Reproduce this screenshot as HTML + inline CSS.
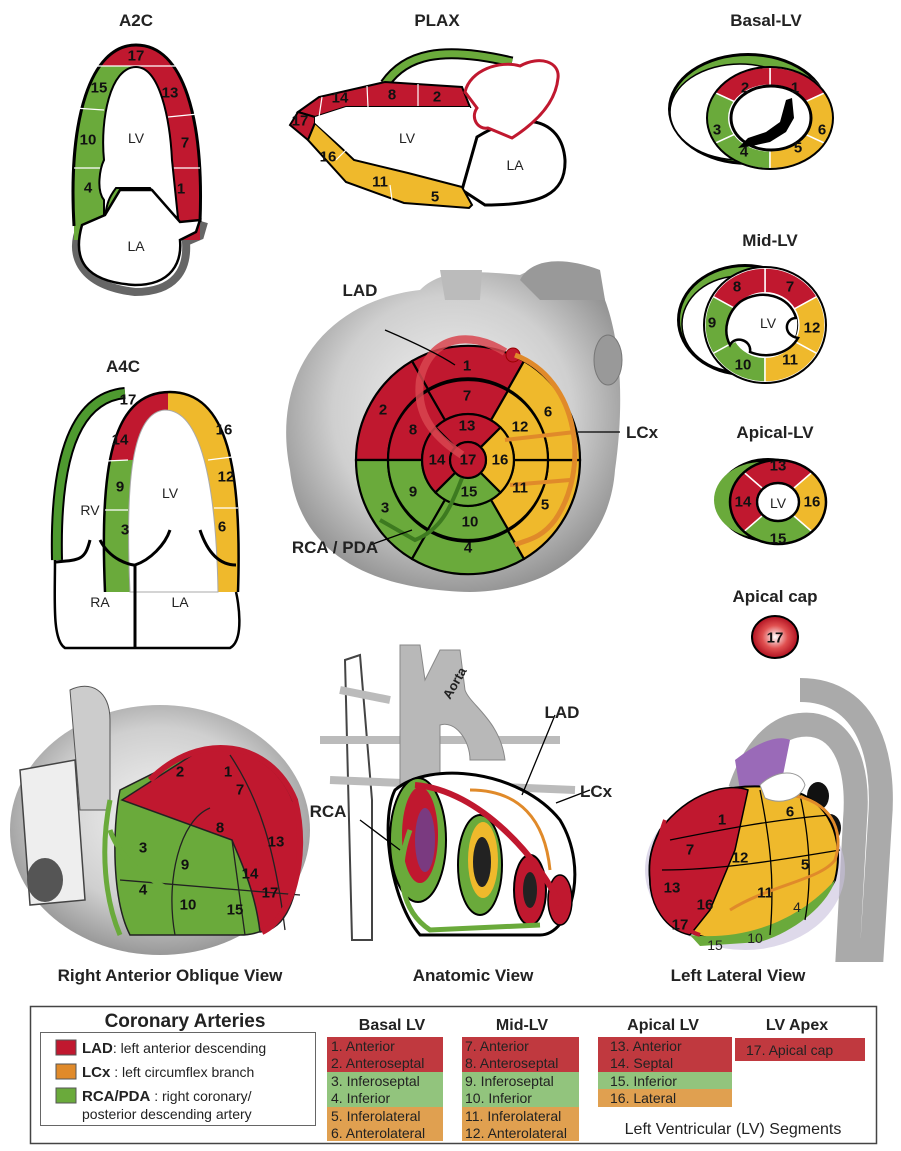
<!DOCTYPE html>
<html><head><meta charset="utf-8"><style>
html,body{margin:0;padding:0;background:#fff;}
svg{display:block;font-family:"Liberation Sans",Arial,sans-serif;}
.t{font-weight:bold;font-size:17px;text-anchor:middle;fill:#222;}
.n{font-weight:bold;font-size:15px;text-anchor:middle;fill:#111;dominant-baseline:central;}
.s{font-size:14px;text-anchor:middle;fill:#222;dominant-baseline:central;}
.lg{font-size:14px;fill:#222;}
</style></head><body>
<svg id="sv" width="901" height="1151" viewBox="0 0 901 1151" xmlns="http://www.w3.org/2000/svg">
<defs>
<radialGradient id="gr" cx="50%" cy="45%" r="60%"><stop offset="0" stop-color="#f4f4f4"/><stop offset="0.6" stop-color="#cfcfcf"/><stop offset="1" stop-color="#8a8a8a"/></radialGradient>
<radialGradient id="cap" cx="50%" cy="50%" r="50%"><stop offset="0" stop-color="#fff"/><stop offset="0.55" stop-color="#e05050"/><stop offset="1" stop-color="#b01020"/></radialGradient>
<clipPath id="a2c"><path d="M74,226 C68,120 90,45 136,45 C184,45 204,120 200,222 L200,300 L74,300Z"/></clipPath>
<clipPath id="a4c"><path d="M105,592 C100,470 110,392 170,392 C228,392 242,470 238,592Z"/></clipPath>
</defs>

<!-- ===== A2C ===== -->
<text class="t" x="136" y="26">A2C</text>
<path d="M80,228 C70,250 75,285 135,292 C175,292 188,270 186,242 L200,236 L204,222" fill="none" stroke="#666" stroke-width="8"/>
<g clip-path="url(#a2c)">
<rect x="60" y="40" width="80" height="200" fill="#6aaa3b"/>
<rect x="136" y="40" width="80" height="200" fill="#c0182f"/>
<rect x="60" y="40" width="160" height="26" fill="#c0182f"/>
</g>
<path d="M74,226 C68,120 90,45 136,45 C184,45 204,120 200,222" fill="none" stroke="#000" stroke-width="3"/>
<g stroke="#fff" stroke-width="1.2"><line x1="74" y1="108" x2="104" y2="110"/><line x1="74" y1="168" x2="106" y2="168"/><line x1="168" y1="117" x2="198" y2="114"/><line x1="172" y1="168" x2="200" y2="168"/><line x1="90" y1="66" x2="190" y2="66"/></g>
<path d="M104,226 L104,200 C96,190 100,168 104,160 C100,120 110,67 136,67 C160,67 170,120 172,160 L178,218 C170,214 160,200 150,188 L116,188 C110,196 106,202 104,226Z" fill="#fff" stroke="#000" stroke-width="2"/>
<path d="M82,225 C72,260 85,282 135,285 C172,285 182,262 180,240 L196,232 L200,220 L180,222 L152,190 L120,190 L105,215 Z" fill="#fff" stroke="#000" stroke-width="2.5"/>
<text class="n" x="136" y="56">17</text><text class="n" x="99" y="88">15</text><text class="n" x="170" y="93">13</text>
<text class="n" x="88" y="140">10</text><text class="n" x="185" y="143">7</text><text class="n" x="88" y="188">4</text><text class="n" x="181" y="189">1</text>
<text class="s" x="136" y="138" font-size="16">LV</text><text class="s" x="136" y="246" font-size="16">LA</text>

<!-- ===== PLAX ===== -->
<text class="t" x="437" y="26">PLAX</text>
<path d="M385,84 C405,55 440,45 512,62" fill="none" stroke="#000" stroke-width="11"/>
<path d="M385,84 C405,55 440,45 512,62" fill="none" stroke="#6aaa3b" stroke-width="7"/>
<path d="M477,137 C520,110 562,117 565,160 C566,195 540,205 485,205 L462,190Z" fill="#fff" stroke="#000" stroke-width="3"/>
<path d="M298,112 L319,97 L385,82 L462,87 L470,107 L346,107 L315,117Z" fill="#c0182f" stroke="#000" stroke-width="2"/>
<path d="M290,125 L298,112 L315,117 L315,123 L308,140Z" fill="#c0182f" stroke="#000" stroke-width="2"/>
<path d="M308,140 L315,123 L354,160 L408,173 L462,187 L472,205 L469,208 L404,203 L346,182Z" fill="#efb92c" stroke="#000" stroke-width="2"/>
<path d="M315,123 L315,117 L346,107 L470,107 L468,130 L440,148 L408,170 L354,158Z" fill="#fff"/>
<path d="M465,92 C470,70 500,60 520,66 C540,55 560,62 558,78 C556,100 540,120 512,138 L488,128 C478,130 470,118 477,108 Z" fill="#fff" stroke="#c0182f" stroke-width="3"/>
<g stroke="#fff" stroke-width="1.2"><line x1="322" y1="97" x2="319" y2="117"/><line x1="367" y1="86" x2="368" y2="107"/><line x1="418" y1="84" x2="418" y2="106"/><line x1="336" y1="160" x2="346" y2="150"/><line x1="390" y1="185" x2="392" y2="200"/></g>
<text class="n" x="340" y="98">14</text><text class="n" x="392" y="95">8</text><text class="n" x="437" y="97">2</text><text class="n" x="300" y="121">17</text>
<text class="n" x="328" y="157">16</text><text class="n" x="380" y="182">11</text><text class="n" x="435" y="197">5</text>
<text class="s" x="407" y="138" font-size="16">LV</text><text class="s" x="515" y="165" font-size="16">LA</text>

<!-- ===== Bullseye heart ===== -->
<path d="M290,470 C270,370 330,300 420,290 C440,270 470,270 520,275 C560,255 600,270 605,300 C620,340 625,400 615,470 C610,540 560,590 470,592 C380,590 300,560 290,470Z" fill="url(#gr)"/>
<path d="M440,270 L445,300 L480,300 L482,270Z" fill="#bbb"/>
<path d="M520,280 C530,260 560,255 600,270 L605,300 L540,300Z" fill="#999"/>
<ellipse cx="608" cy="360" rx="14" ry="25" fill="#999" stroke="#777"/>
<g id="bull"></g>
<text class="n" x="467" y="366" font-size="17">1</text><text class="n" x="383" y="410" font-size="17">2</text><text class="n" x="385" y="508" font-size="17">3</text>
<text class="n" x="468" y="548" font-size="17">4</text><text class="n" x="545" y="505" font-size="17">5</text><text class="n" x="548" y="412" font-size="17">6</text>
<text class="n" x="467" y="396" font-size="17">7</text><text class="n" x="413" y="430" font-size="17">8</text><text class="n" x="413" y="492" font-size="17">9</text>
<text class="n" x="470" y="522" font-size="17">10</text><text class="n" x="520" y="488" font-size="17">11</text><text class="n" x="520" y="427" font-size="17">12</text>
<text class="n" x="467" y="426" font-size="17">13</text><text class="n" x="437" y="460" font-size="17">14</text><text class="n" x="469" y="492" font-size="17">15</text><text class="n" x="500" y="460" font-size="17">16</text>
<text class="n" x="468" y="460" font-size="17">17</text>
<path d="M385,330 C420,345 440,355 455,365" stroke="#000" stroke-width="1.3" fill="none"/>
<text class="t" x="360" y="296">LAD</text>
<path d="M578,432 L620,432" stroke="#000" stroke-width="1.3"/>
<text class="t" x="642" y="438">LCx</text>
<path d="M370,545 L412,530" stroke="#000" stroke-width="1.3"/>
<text class="t" x="335" y="553">RCA / PDA</text>

<!-- ===== A4C ===== -->
<text class="t" x="123" y="372">A4C</text>
<path d="M57,560 C55,470 70,398 125,393" fill="none" stroke="#000" stroke-width="12"/>
<path d="M57,560 C55,470 70,398 125,393" fill="none" stroke="#4e9a2f" stroke-width="8"/>
<g clip-path="url(#a4c)">
<rect x="100" y="388" width="70" height="72" fill="#c0182f"/>
<rect x="100" y="460" width="70" height="135" fill="#6aaa3b"/>
<rect x="168" y="388" width="80" height="210" fill="#efb92c"/>
<rect x="120" y="388" width="48" height="22" fill="#c0182f"/>
</g>
<path d="M105,592 C100,470 110,392 170,392 C228,392 242,470 238,592" fill="none" stroke="#000" stroke-width="2.5"/>
<path d="M130,592 C125,480 132,412 165,410 C200,410 216,480 218,592Z" fill="#fff" stroke="#aaa" stroke-width="1"/>
<g stroke="#fff" stroke-width="1.2"><line x1="106" y1="461" x2="128" y2="460"/><line x1="105" y1="510" x2="128" y2="510"/><line x1="208" y1="460" x2="232" y2="457"/><line x1="214" y1="508" x2="238" y2="508"/></g>
<path d="M55,560 C55,600 52,640 65,648 L230,648 C245,640 238,600 236,592" fill="none" stroke="#000" stroke-width="2.5"/>
<path d="M135,565 L135,648 M56,562 C80,560 85,560 90,540 M100,540 C110,560 130,565 135,565 C150,560 165,545 170,530 M200,530 C210,560 225,565 236,565" fill="none" stroke="#000" stroke-width="3"/>
<text class="n" x="128" y="400">17</text><text class="n" x="120" y="440">14</text><text class="n" x="224" y="430">16</text>
<text class="n" x="120" y="487">9</text><text class="n" x="226" y="477">12</text><text class="n" x="125" y="530">3</text><text class="n" x="222" y="527">6</text>
<text class="s" x="90" y="510">RV</text><text class="s" x="170" y="493">LV</text><text class="s" x="100" y="602">RA</text><text class="s" x="180" y="602">LA</text>

<!-- ===== right column ===== -->
<text class="t" x="766" y="26">Basal-LV</text>
<ellipse cx="748" cy="109" rx="80" ry="56" fill="#000"/><ellipse cx="748" cy="109" rx="77" ry="53" fill="#6aaa3b"/><ellipse cx="740" cy="112" rx="70" ry="48" fill="#fff" stroke="#000" stroke-width="1.5"/>
<g id="basal"></g>
<path d="M786,100 L792,98 L794,118 L786,132 L770,142 L752,146 L738,148 L748,138 L766,132 L780,122Z" fill="#000"/>
<text class="n" x="745" y="88">2</text><text class="n" x="795" y="88">1</text><text class="n" x="717" y="130">3</text><text class="n" x="822" y="130">6</text><text class="n" x="744" y="152">4</text><text class="n" x="798" y="148">5</text>

<text class="t" x="770" y="246">Mid-LV</text>
<ellipse cx="745" cy="320" rx="68" ry="56" fill="#000"/><ellipse cx="745" cy="320" rx="65" ry="53" fill="#6aaa3b"/><ellipse cx="740" cy="324" rx="58" ry="48" fill="#fff" stroke="#000" stroke-width="1.5"/>
<g id="mid"></g>
<text class="n" x="737" y="287">8</text><text class="n" x="790" y="287">7</text><text class="n" x="712" y="323">9</text><text class="n" x="812" y="328">12</text><text class="n" x="743" y="365">10</text><text class="n" x="790" y="360">11</text>
<text class="s" x="768" y="323">LV</text>

<text class="t" x="775" y="438">Apical-LV</text>
<ellipse cx="768" cy="500" rx="52" ry="42" fill="#000"/><ellipse cx="762" cy="500" rx="48" ry="38" fill="#6aaa3b"/>
<g id="apic"></g>
<text class="n" x="778" y="466" font-size="17">13</text><text class="n" x="743" y="502" font-size="17">14</text><text class="n" x="812" y="502" font-size="17">16</text><text class="n" x="778" y="539" font-size="17">15</text>
<text class="s" x="778" y="503">LV</text>

<text class="t" x="775" y="602">Apical cap</text>
<ellipse cx="775" cy="637" rx="23" ry="21" fill="url(#cap)" stroke="#000" stroke-width="2"/>
<text class="n" x="775" y="638" font-size="17">17</text>

<!-- ===== RAO view ===== -->
<ellipse cx="160" cy="830" rx="150" ry="125" fill="url(#gr)"/>
<path d="M70,690 C90,680 110,690 110,720 L110,810 L80,810 Z" fill="#ccc" stroke="#555"/>
<path d="M20,770 L75,760 L85,900 L30,905Z" fill="#eee" stroke="#444" stroke-width="1.5"/>
<ellipse cx="45" cy="880" rx="18" ry="22" fill="#555"/>
<path d="M120,790 L200,750 C255,740 300,780 300,840 C300,900 280,935 240,935 L130,935 C112,900 112,830 120,790Z" fill="#6aaa3b" stroke="#222" stroke-width="1.5"/>
<path d="M122,800 L200,750 C255,740 300,780 300,840 C300,900 285,930 260,932 C255,890 240,860 232,840 Z" fill="#c0182f" stroke="#222" stroke-width="1.5"/>
<g fill="none" stroke="#222" stroke-width="1.3"><path d="M210,808 C180,820 165,880 175,935"/><path d="M120,880 L300,895"/><path d="M232,840 L245,935"/><path d="M230,755 C260,800 275,850 285,930"/></g>
<path d="M150,780 C200,730 270,740 295,800 C310,860 290,920 262,932" fill="none" stroke="#c0182f" stroke-width="6"/>
<path d="M110,800 C100,850 105,900 120,935 M110,830 C120,860 150,880 170,890" fill="none" stroke="#6aaa3b" stroke-width="5"/>
<text class="n" x="180" y="772">2</text><text class="n" x="220" y="828">8</text><text class="n" x="250" y="874">14</text><text class="n" x="276" y="842">13</text><text class="n" x="270" y="893">17</text><text class="n" x="240" y="790">7</text><text class="n" x="228" y="772">1</text>
<text class="n" x="143" y="848">3</text><text class="n" x="185" y="865">9</text><text class="n" x="143" y="890">4</text><text class="n" x="188" y="905">10</text><text class="n" x="235" y="910">15</text>
<text class="t" x="170" y="981">Right Anterior Oblique View</text>

<!-- ===== Anatomic ===== -->
<path d="M345,660 L360,655 L372,800 L372,940 L352,940 Z" fill="#fff" stroke="#444" stroke-width="2"/>
<path d="M320,740 L560,740 M330,780 L575,790 M340,690 L390,700" stroke="#bbb" stroke-width="8" fill="none"/>
<path d="M400,645 L420,645 L425,680 L440,650 L460,650 L465,690 C470,705 500,720 505,760 L470,760 C470,740 455,720 440,725 L440,800 L400,800 Z" fill="#b8b8b8" stroke="#888"/>
<text x="450" y="700" transform="rotate(-60 450 700)" style="font-weight:bold;font-size:13px;fill:#222">Aorta</text>
<path d="M395,790 C430,760 520,770 560,820 C590,870 570,935 540,935 L420,935 C390,900 380,820 395,790Z" fill="#fff" stroke="#000" stroke-width="3"/>
<ellipse cx="418" cy="840" rx="28" ry="62" fill="#6aaa3b" stroke="#000" stroke-width="2"/>
<ellipse cx="420" cy="835" rx="18" ry="48" fill="#c0182f"/><ellipse cx="425" cy="840" rx="10" ry="32" fill="#7a3a80"/>
<ellipse cx="480" cy="865" rx="22" ry="50" fill="#6aaa3b" stroke="#000" stroke-width="2"/>
<ellipse cx="483" cy="860" rx="15" ry="38" fill="#efb92c"/><ellipse cx="482" cy="862" rx="9" ry="25" fill="#222"/>
<ellipse cx="530" cy="890" rx="16" ry="35" fill="#c0182f" stroke="#000" stroke-width="2"/><ellipse cx="530" cy="890" rx="7" ry="18" fill="#222"/>
<ellipse cx="560" cy="900" rx="12" ry="25" fill="#c0182f" stroke="#000" stroke-width="1.5"/>
<path d="M415,785 C480,790 540,860 560,905" fill="none" stroke="#c0182f" stroke-width="6"/>
<path d="M470,790 C520,790 545,820 550,870" fill="none" stroke="#e08a2a" stroke-width="3"/>
<path d="M410,830 C395,870 400,910 430,930 L540,925" fill="none" stroke="#6aaa3b" stroke-width="5"/>
<path d="M360,820 L400,850 M555,715 L522,795 M590,790 L556,803" stroke="#000" stroke-width="1.3"/>
<text class="t" x="328" y="817">RCA</text><text class="t" x="562" y="718">LAD</text><text class="t" x="596" y="797">LCx</text>
<text class="t" x="473" y="981">Anatomic View</text>

<!-- ===== Left Lateral ===== -->
<path d="M800,690 C870,690 885,760 880,820 L872,950 L848,950 L855,820 C860,760 840,720 800,725 C770,728 750,760 740,790" fill="none" stroke="#aaa" stroke-width="24"/>
<ellipse cx="745" cy="870" rx="100" ry="80" fill="#c8c0dc" opacity="0.6"/>
<path d="M735,760 C760,740 780,735 790,740 L780,790 L740,790Z" fill="#9a6ab8"/>
<ellipse cx="818" cy="796" rx="11" ry="14" fill="#111"/><ellipse cx="830" cy="828" rx="11" ry="14" fill="#111"/>
<path d="M660,830 C690,790 740,780 790,790 C830,800 845,840 835,880 C820,910 780,935 730,940 C680,940 650,910 650,880 C648,860 652,845 660,830Z" fill="#efb92c" stroke="#000" stroke-width="2"/>
<path d="M660,830 C690,790 730,783 748,790 L735,850 L710,910 L690,935 C665,930 650,905 650,880 C648,860 652,845 660,830Z" fill="#c0182f" stroke="#000" stroke-width="1.5"/>
<path d="M690,935 C730,940 790,930 835,880 C830,900 800,930 760,942 L700,946Z" fill="#6aaa3b"/>
<g fill="none" stroke="#000" stroke-width="1.3"><path d="M662,870 C720,870 780,860 840,850"/><path d="M670,840 C720,830 770,820 830,815"/><path d="M760,790 C770,840 775,880 770,935"/><path d="M800,795 C810,840 812,880 805,920"/></g>
<path d="M665,820 C650,860 655,920 700,935" fill="none" stroke="#c0182f" stroke-width="4"/>
<path d="M790,795 C830,800 845,830 835,860 C820,880 770,885 730,910" fill="none" stroke="#e08a2a" stroke-width="3"/>
<path d="M760,785 C775,770 800,768 805,785 C800,800 780,805 765,798Z" fill="#fff" stroke="#999"/>
<text class="n" x="722" y="820">1</text><text class="n" x="790" y="812">6</text><text class="n" x="690" y="850">7</text><text class="n" x="740" y="858">12</text><text class="n" x="805" y="865">5</text>
<text class="n" x="672" y="888">13</text><text class="n" x="765" y="893">11</text><text class="n" x="705" y="905">16</text><text class="n" x="680" y="925">17</text>
<text class="s" x="715" y="945">15</text><text class="s" x="755" y="938">10</text><text class="s" x="797" y="907">4</text>
<text class="t" x="738" y="981">Left Lateral View</text>

<!-- ===== Legend ===== -->
<rect x="30.5" y="1006.5" width="846" height="137" fill="#fff" stroke="#444" stroke-width="1.5"/>
<text x="185" y="1027" style="font-weight:bold;font-size:19px;text-anchor:middle;fill:#222">Coronary Arteries</text>
<rect x="40.5" y="1032.5" width="275" height="93" fill="none" stroke="#666"/>
<rect x="56" y="1040" width="20" height="15" fill="#c0182f" stroke="#555"/>
<rect x="56" y="1064" width="20" height="15" fill="#e08a2a" stroke="#555"/>
<rect x="56" y="1088" width="20" height="15" fill="#6aaa3b" stroke="#555"/>
<text class="lg" x="82" y="1053"><tspan font-weight="bold" font-size="15">LAD</tspan>: left anterior descending</text>
<text class="lg" x="82" y="1077"><tspan font-weight="bold" font-size="15">LCx</tspan> : left circumflex branch</text>
<text class="lg" x="82" y="1101"><tspan font-weight="bold" font-size="15">RCA/PDA</tspan> : right coronary/</text>
<text class="lg" x="82" y="1119">posterior descending artery</text>

<g style="font-weight:bold;font-size:16px;text-anchor:middle;fill:#222">
<text x="392" y="1030">Basal LV</text><text x="522" y="1030">Mid-LV</text><text x="663" y="1030">Apical LV</text><text x="797" y="1030">LV Apex</text></g>
<rect x="327" y="1037" width="116" height="35" fill="#c0393f"/><rect x="327" y="1072" width="116" height="35" fill="#92c47d"/><rect x="327" y="1107" width="116" height="34" fill="#e0a050"/>
<rect x="462" y="1037" width="117" height="35" fill="#c0393f"/><rect x="462" y="1072" width="117" height="35" fill="#92c47d"/><rect x="462" y="1107" width="117" height="34" fill="#e0a050"/>
<rect x="598" y="1037" width="134" height="35" fill="#c0393f"/><rect x="598" y="1072" width="134" height="17" fill="#92c47d"/><rect x="598" y="1089" width="134" height="18" fill="#e0a050"/>
<rect x="735" y="1038" width="130" height="23" fill="#c0393f"/>
<g class="lg" style="font-size:14px">
<text x="331" y="1051">1.  Anterior</text><text x="331" y="1068">2.  Anteroseptal</text><text x="331" y="1086">3.  Inferoseptal</text><text x="331" y="1103">4.  Inferior</text><text x="331" y="1121">5.  Inferolateral</text><text x="331" y="1138">6.  Anterolateral</text>
<text x="465" y="1051">7.  Anterior</text><text x="465" y="1068">8.  Anteroseptal</text><text x="465" y="1086">9.  Inferoseptal</text><text x="465" y="1103">10.  Inferior</text><text x="465" y="1121">11.  Inferolateral</text><text x="465" y="1138">12.  Anterolateral</text>
<text x="610" y="1051">13.  Anterior</text><text x="610" y="1068">14.  Septal</text><text x="610" y="1086">15.  Inferior</text><text x="610" y="1103">16.  Lateral</text>
<text x="746" y="1055">17.  Apical cap</text></g>
<text x="733" y="1134" style="font-size:16px;text-anchor:middle;fill:#222">Left Ventricular (LV) Segments</text>
</svg>
<script>
var R="#c0182f",Y="#efb92c",G="#6aaa3b";
function seg(cx,cy,r1,r2,a1,a2,sx,sy,fill,sw,st){
 function p(r,a){a=a*Math.PI/180;return [(cx+r*sx*Math.cos(a)).toFixed(1),(cy-r*sy*Math.sin(a)).toFixed(1)];}
 var A=p(r2,a1),B=p(r2,a2),C=p(r1,a2),D=p(r1,a1);var lg=(a2-a1)>180?1:0;
 var d="M"+A+" A"+(r2*sx)+","+(r2*sy)+" 0 "+lg+" 0 "+B+" L"+C+" A"+(r1*sx)+","+(r1*sy)+" 0 "+lg+" 1 "+D+"Z";
 return '<path d="'+d+'" fill="'+fill+'" stroke="'+(st||"#000")+'" stroke-width="'+(sw||2)+'"/>';}
function put(id,h){document.getElementById(id).innerHTML=h;}
var h="";
var b=[[60,120,R],[120,180,R],[180,240,G],[240,300,G],[300,360,Y],[0,60,Y]];
b.forEach(function(s){h+=seg(468,460,80,112,s[0],s[1],1,1.02,s[2],2.2);});
b.forEach(function(s){h+=seg(468,460,46,80,s[0],s[1],1,1,s[2],2.2);});
[[45,135,R],[135,225,R],[225,315,G],[-45,45,Y]].forEach(function(s){h+=seg(468,460,18,46,s[0],s[1],1,1,s[2],2.2);});
h+='<circle cx="468" cy="460" r="18" fill="'+R+'" stroke="#000" stroke-width="2.2"/>';
h+='<path d="M505,352 C470,330 430,335 420,380 C415,420 440,440 462,455" fill="none" stroke="#d8454f" stroke-width="8" opacity="0.85"/>';
h+='<circle cx="513" cy="355" r="7" fill="#c0182f" stroke="#900"/>';
h+='<path d="M515,355 C580,380 590,470 555,520 C540,540 525,540 515,545" fill="none" stroke="#e08a2a" stroke-width="5"/>';
h+='<path d="M505,440 L575,432 M510,485 L570,480" stroke="#e08a2a" stroke-width="4" fill="none"/>';
h+='<path d="M462,478 C450,510 440,530 415,540 L380,520" fill="none" stroke="#3d7a20" stroke-width="4"/>';
put("bull",h);
h="";
[[30,90,R],[90,150,R],[150,210,G],[210,270,G],[270,330,Y],[330,390,Y]].forEach(function(s){h+=seg(770,118,40,62,s[0],s[1],1.03,0.82,s[2],1.5,"#fff");});
h+='<ellipse cx="770" cy="118" rx="63" ry="51" fill="none" stroke="#000" stroke-width="2"/><ellipse cx="771" cy="118" rx="40" ry="32" fill="#fff" stroke="#000" stroke-width="3"/>';
put("basal",h);
h="";
[[30,90,R],[90,150,R],[150,210,G],[210,270,G],[270,330,Y],[330,390,Y]].forEach(function(s){h+=seg(765,325,34,60,s[0],s[1],1,0.95,s[2],1.5,"#fff");});
h+='<ellipse cx="765" cy="325" rx="61" ry="58" fill="none" stroke="#000" stroke-width="2"/>';
h+='<path d="M740,302 C760,288 790,295 796,318 C785,318 782,335 798,338 C790,352 770,360 750,352 C752,340 735,335 730,345 C722,330 728,312 740,302Z" fill="#fff" stroke="#000" stroke-width="2.5"/>';
put("mid",h);
h="";
[[45,135,R],[135,225,R],[225,315,G],[-45,45,Y]].forEach(function(s){h+=seg(778,502,20,45,s[0],s[1],1.07,0.93,s[2],1.5,"#fff");});
h+='<ellipse cx="778" cy="502" rx="48" ry="42" fill="none" stroke="#000" stroke-width="2.5"/><ellipse cx="778" cy="502" rx="21" ry="19" fill="#fff" stroke="#000" stroke-width="2.5"/>';
put("apic",h);
</script>
</body></html>
